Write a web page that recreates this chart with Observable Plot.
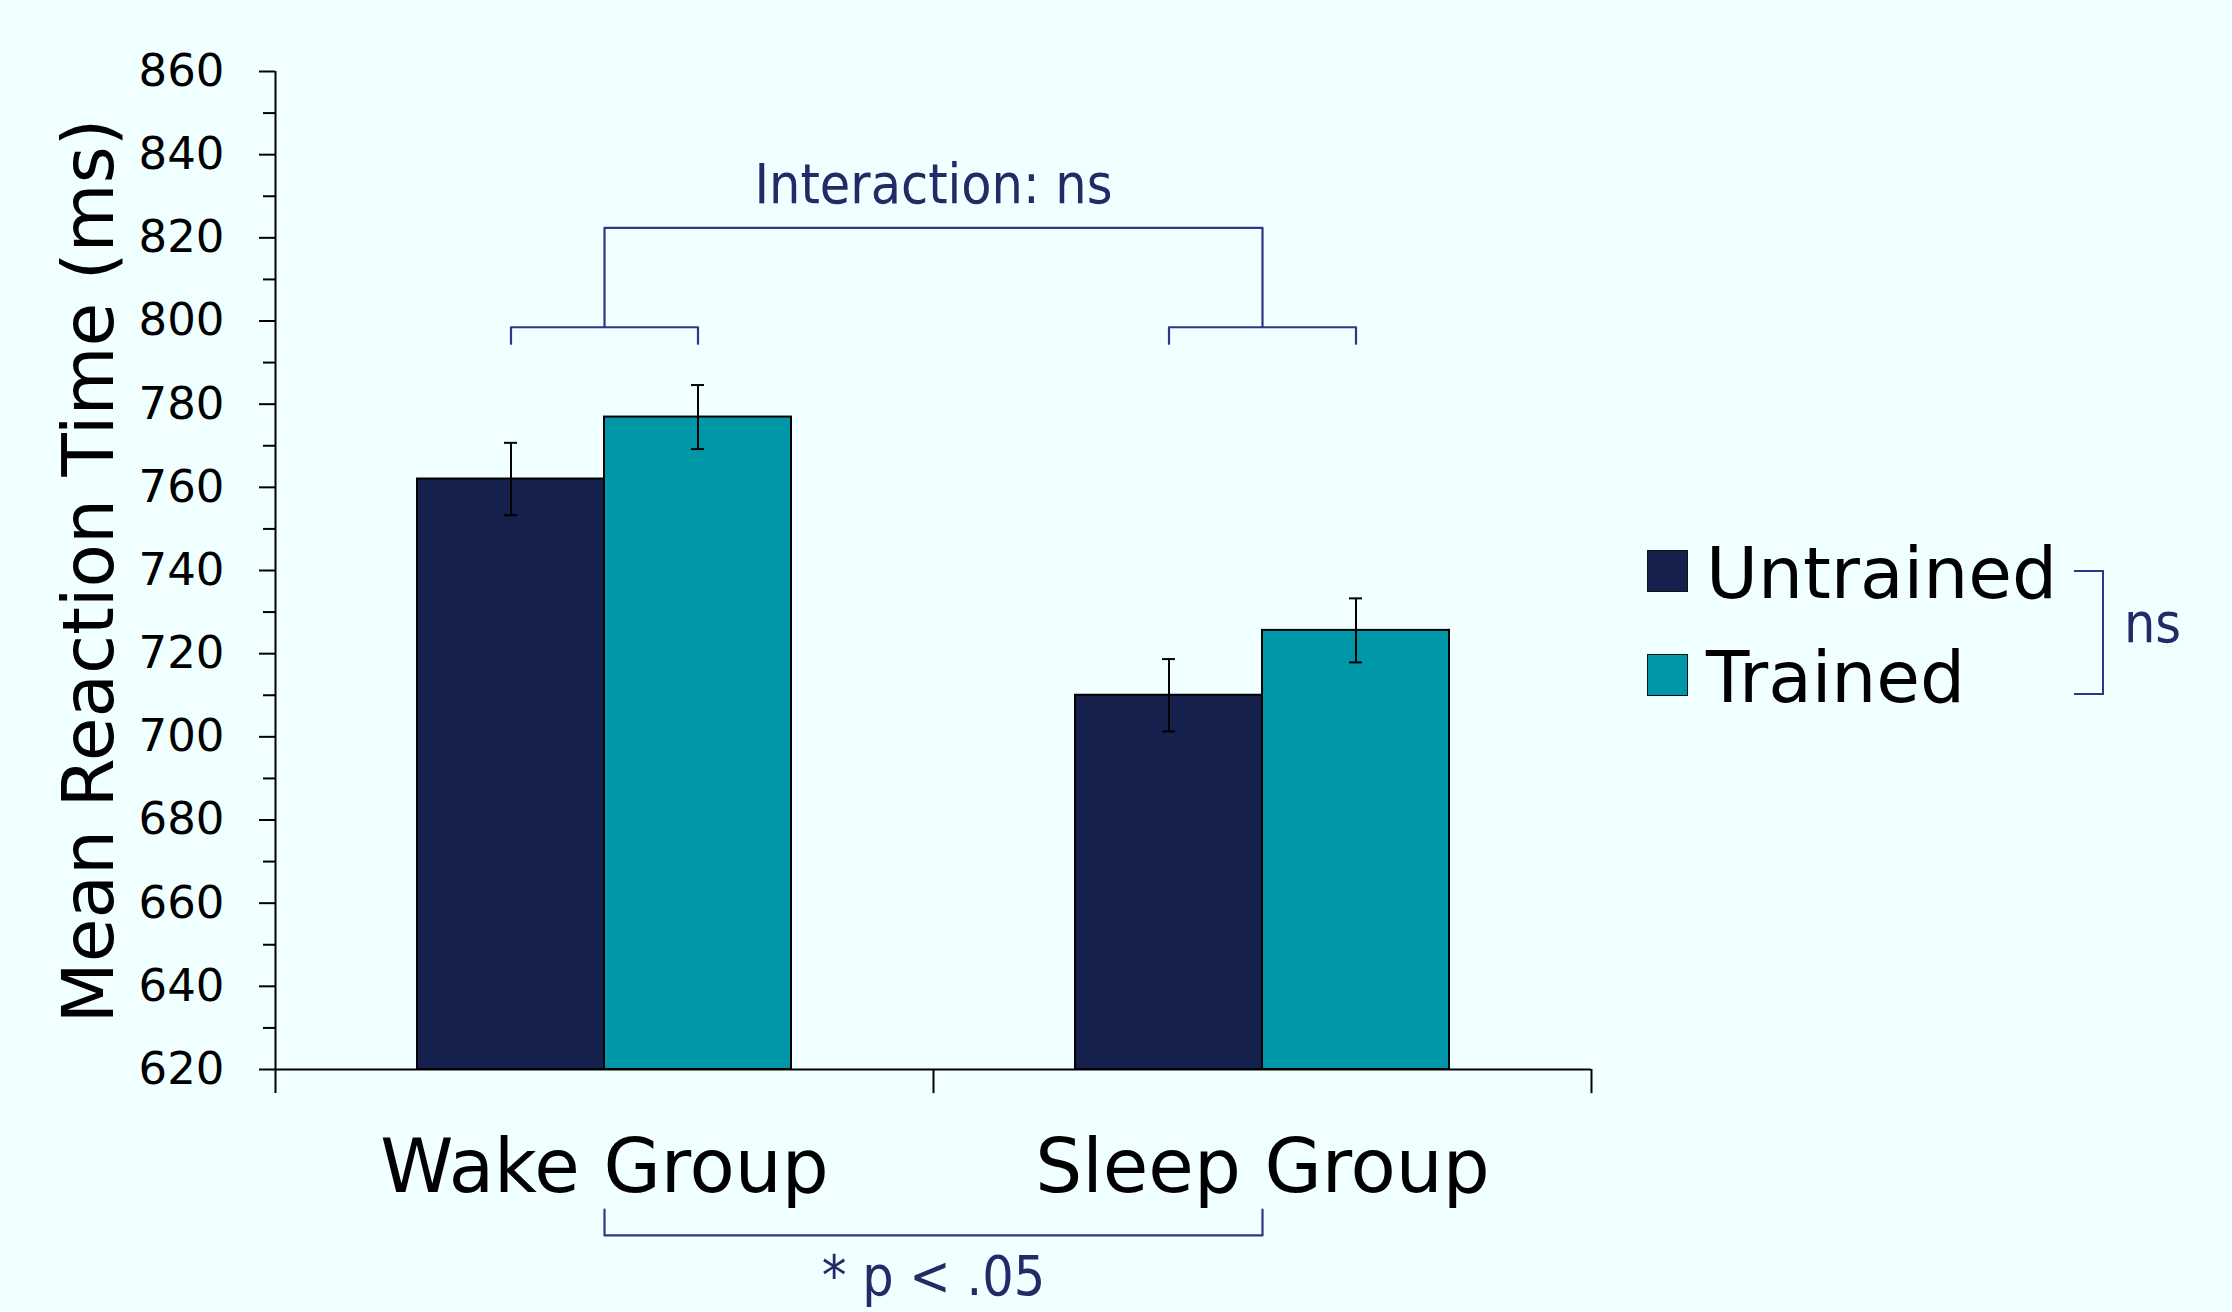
<!DOCTYPE html>
<html>
<head>
<meta charset="utf-8">
<script src="https://cdn.jsdelivr.net/npm/d3@7"></script>
<script src="https://cdn.jsdelivr.net/npm/@observablehq/plot@0.6"></script>
<style>
  html, body { margin: 0; padding: 0; background: #f0ffff; }
  #chart { position: relative; width: 2232px; height: 1312px; background: #f0ffff; overflow: hidden; font-family: "DejaVu Sans", sans-serif; color: #000; }
  #chart svg { position: absolute; left: 0; top: 0; }
  .ytitle { position: absolute; left: 88px; top: 571px; transform: translate(-50%, -50%) rotate(-90deg); white-space: nowrap; font-size: 71px; line-height: 1; }
  .swatch { position: absolute; width: 39px; height: 40px; border: 1.5px solid #111; }
  .legtext { position: absolute; font-size: 71px; line-height: 1; white-space: nowrap; }
  .ann { color: #1f2c66; font-family: "DejaVu Sans Condensed", "Liberation Sans Narrow", "DejaVu Sans", sans-serif; font-stretch: condensed; }
  .nsbracket { position: absolute; border: 2.2px solid #2b3787; border-left: none; }
</style>
</head>
<body>
<div id="chart"></div>
<script>
// ---- data ----
const groups = ["Wake Group", "Sleep Group"];
const series = ["Untrained", "Trained"];
const seriesColors = ["#15204c", "#0098a8"];
const wakeValues = [762.0, 776.9];
const sleepValues = [710.0, 725.6];
const wakeErrors = [8.7, 7.7];
const sleepErrors = [8.7, 7.7];
const yDomain = [620, 860];
const yTicks = [620, 640, 660, 680, 700, 720, 740, 760, 780, 800, 820, 840, 860];
const yMinorTicks = [630, 650, 670, 690, 710, 730, 750, 770, 790, 810, 830, 850];
const axisSlots = ["axisStart", "Wake Group", "groupDivider", "Sleep Group", "axisEnd"];
const axisTickEnd = 614.2;
// annotation levels (in ms)
const smallBracketDrop = 794.5;
const smallBracketLevel = 798.5;
const interactionLevel = 822.4;
const interactionLabelY = 832.5;
const interactionLabel = "Interaction: ns";
const groupBracketDrop = 586.3;
const groupBracketLevel = 580.1;
const groupLabelY = 570;
const groupLabel = "* p < .05";
const seriesLabel = "ns";

const annLine = "#2b3787";
const annText = "#1f2c66";
const annFont = "'DejaVu Sans Condensed', 'Liberation Sans Narrow', 'DejaVu Sans', sans-serif";

const valuesByGroup = [wakeValues, sleepValues];
const errorsByGroup = [wakeErrors, sleepErrors];
const rows = [];
groups.forEach((g, gi) => series.forEach((s, si) => rows.push({group: g, series: s, value: valuesByGroup[gi][si], err: errorsByGroup[gi][si]})));

const smallBracket = groups.flatMap(g => [
  {group: g, series: series[0], y: smallBracketDrop},
  {group: g, series: series[0], y: smallBracketLevel},
  {group: g, series: series[1], y: smallBracketLevel},
  {group: g, series: series[1], y: smallBracketDrop}
]);
const interactionBracket = [
  {x: groups[0], y: smallBracketLevel},
  {x: groups[0], y: interactionLevel},
  {x: groups[1], y: interactionLevel},
  {x: groups[1], y: smallBracketLevel}
];
const groupBracket = [
  {x: groups[0], y: groupBracketDrop},
  {x: groups[0], y: groupBracketLevel},
  {x: groups[1], y: groupBracketLevel},
  {x: groups[1], y: groupBracketDrop}
];

const W = 2232, H = 1312;
const margins = {marginLeft: 275, marginRight: 641, marginTop: 71, marginBottom: 243};

const plotA = Plot.plot({
  width: W, height: H, ...margins,
  style: {background: "transparent", overflow: "visible", fontFamily: "DejaVu Sans, sans-serif", color: "#000"},
  fx: {domain: groups, padding: 0},
  x: {domain: series, paddingInner: 0, paddingOuter: 0.755, axis: null},
  y: {domain: yDomain},
  color: {domain: series, range: seriesColors},
  marks: [
    Plot.axisY({ticks: yMinorTicks, tickSize: 12, text: null, label: null, strokeWidth: 2}),
    Plot.axisY({ticks: yTicks, tickSize: 16, tickPadding: 35, fontSize: 45, tickFormat: d => String(d), label: null, strokeWidth: 2}),
    Plot.axisFx({anchor: "bottom", tickSize: 0, tickPadding: 70, fontSize: 74, label: null}),
    Plot.barY(rows, {fx: "group", x: "series", y1: yDomain[0], y2: "value", fill: "series", stroke: "#000", strokeWidth: 2}),
    Plot.ruleX(rows, {fx: "group", x: "series", y1: d => d.value - d.err, y2: d => d.value + d.err, stroke: "#000", strokeWidth: 2}),
    Plot.tickY(rows, {fx: "group", x: "series", y: d => d.value - d.err, insetLeft: 87, insetRight: 87, stroke: "#000", strokeWidth: 2}),
    Plot.tickY(rows, {fx: "group", x: "series", y: d => d.value + d.err, insetLeft: 87, insetRight: 87, stroke: "#000", strokeWidth: 2}),
    Plot.line(smallBracket, {fx: "group", x: "series", y: "y", stroke: annLine, strokeWidth: 2.2})
  ]
});

const plotB = Plot.plot({
  width: W, height: H, ...margins,
  style: {background: "transparent", overflow: "visible", fontFamily: "DejaVu Sans, sans-serif", color: "#000"},
  x: {type: "point", domain: axisSlots, padding: 0, axis: null},
  y: {domain: yDomain, axis: null},
  marks: [
    Plot.ruleY([yDomain[0]], {stroke: "#000", strokeWidth: 2}),
    Plot.ruleX([axisSlots[0]], {y1: axisTickEnd, y2: yDomain[1], stroke: "#000", strokeWidth: 2}),
    Plot.ruleX([axisSlots[2], axisSlots[4]], {y1: axisTickEnd, y2: yDomain[0], stroke: "#000", strokeWidth: 2}),
    Plot.line(interactionBracket, {x: "x", y: "y", stroke: annLine, strokeWidth: 2.2}),
    Plot.text([interactionLabel], {x: () => axisSlots[2], y: () => interactionLabelY, text: d => d, fontSize: 55, fill: annText, fontFamily: annFont}),
    Plot.line(groupBracket, {x: "x", y: "y", stroke: annLine, strokeWidth: 2.2}),
    Plot.text([groupLabel], {x: () => axisSlots[2], y: () => groupLabelY, text: d => d, fontSize: 55, fill: annText, fontFamily: annFont})
  ]
});

const chart = document.getElementById("chart");
chart.appendChild(plotA);
chart.appendChild(plotB);

const yTitle = document.createElement("div");
yTitle.className = "ytitle";
yTitle.textContent = "Mean Reaction Time (ms)";
chart.appendChild(yTitle);

// legend (right side)
const legendTops = [550, 654];
const legendTextTops = [538, 642];
series.forEach((s, i) => {
  const sw = document.createElement("div");
  sw.className = "swatch";
  sw.style.left = "1647px";
  sw.style.top = legendTops[i] + "px";
  sw.style.background = seriesColors[i];
  chart.appendChild(sw);
  const t = document.createElement("div");
  t.className = "legtext";
  t.style.left = "1706px";
  t.style.top = legendTextTops[i] + "px";
  t.textContent = s;
  chart.appendChild(t);
});
const nsB = document.createElement("div");
nsB.className = "nsbracket";
nsB.style.left = "2074px";
nsB.style.top = "570px";
nsB.style.width = "28px";
nsB.style.height = "121px";
chart.appendChild(nsB);
const nsT = document.createElement("div");
nsT.className = "legtext ann";
nsT.style.left = "2124px";
nsT.style.top = "596px";
nsT.style.fontSize = "55px";
nsT.textContent = seriesLabel;
chart.appendChild(nsT);
</script>
</body>
</html>
